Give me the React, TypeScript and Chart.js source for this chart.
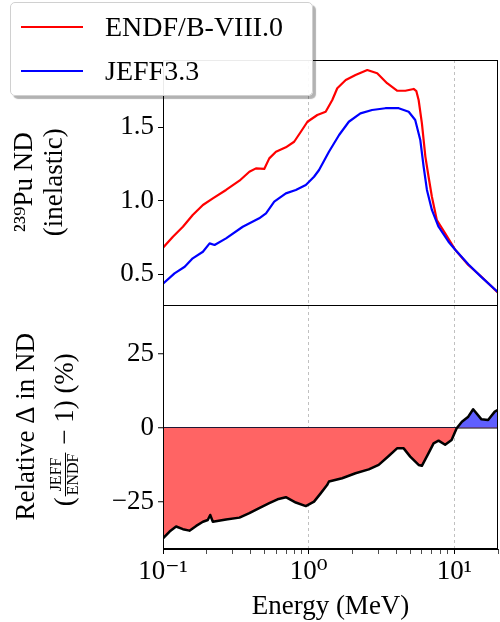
import React, { useEffect, useRef } from 'react';
import { Chart, registerables } from 'chart.js';

Chart.register(...registerables);

const FONT = "'Liberation Serif', 'DejaVu Serif', serif";

// ENDF/B-VIII.0 (red)
const energyEndf = [0.1, 0.117, 0.137, 0.16, 0.188, 0.22, 0.271, 0.335, 0.392, 0.435, 0.496, 0.537, 0.597, 0.698, 0.796, 0.885, 0.982, 1.148, 1.31, 1.455, 1.574, 1.8, 2.1, 2.53, 2.96, 3.46, 4.05, 4.62, 5.27, 5.5, 5.7, 6.0, 6.34, 6.67, 7.03, 7.6, 8.67, 10.2, 12.5, 15.4, 20];
const ndEndf = [0.68, 0.755, 0.823, 0.903, 0.971, 1.016, 1.073, 1.136, 1.197, 1.22, 1.216, 1.288, 1.333, 1.363, 1.401, 1.469, 1.537, 1.583, 1.605, 1.685, 1.765, 1.821, 1.855, 1.889, 1.867, 1.799, 1.748, 1.748, 1.76, 1.745, 1.685, 1.527, 1.3, 1.163, 1.027, 0.869, 0.778, 0.665, 0.563, 0.483, 0.374];

// JEFF3.3 (blue)
const energyJeff = [0.1, 0.12, 0.141, 0.16, 0.188, 0.209, 0.226, 0.271, 0.353, 0.458, 0.51, 0.581, 0.698, 0.817, 0.957, 1.09, 1.18, 1.38, 1.62, 1.89, 2.27, 2.73, 3.37, 4.16, 4.87, 5.4, 5.85, 6.17, 6.5, 7.03, 7.81, 9.14, 10.2, 12.5, 15.4, 20];
const ndJeff = [0.435, 0.506, 0.551, 0.608, 0.653, 0.71, 0.699, 0.744, 0.823, 0.88, 0.914, 0.993, 1.05, 1.073, 1.107, 1.163, 1.209, 1.333, 1.447, 1.537, 1.594, 1.617, 1.629, 1.629, 1.605, 1.549, 1.413, 1.231, 1.073, 0.937, 0.823, 0.721, 0.665, 0.568, 0.48, 0.378];

// Relative difference (%)
const energyRel = [0.1, 0.111, 0.123, 0.137, 0.152, 0.169, 0.188, 0.203, 0.211, 0.22, 0.271, 0.335, 0.392, 0.458, 0.537, 0.612, 0.698, 0.817, 0.957, 1.09, 1.21, 1.34, 1.38, 1.7, 2.1, 2.59, 3.03, 3.55, 4.05, 4.5, 4.99, 5.7, 6.0, 6.67, 7.22, 7.81, 8.67, 9.6, 10.4, 11.3, 12.5, 13.5, 15.4, 17.1, 19.0, 20];
const relDiff = [-37.4, -35.1, -33.4, -34.3, -34.8, -33.2, -31.8, -31.2, -29.5, -31.8, -31.0, -30.4, -28.9, -27.2, -25.5, -24.2, -23.5, -25.3, -26.5, -25.0, -22.2, -19.4, -18.2, -17.1, -15.4, -14.1, -12.6, -9.6, -7.0, -7.0, -9.8, -12.6, -12.9, -8.6, -5.3, -4.4, -5.8, -4.2, -0.2, 2.0, 3.7, 6.2, 2.8, 2.6, 5.4, 6.0];

const xMajorTicks = [0.1, 1, 10];
const xMajorLabels = ['10\u207B\u00B9', '10\u2070', '10\u00B9'];
const xMinorTicks = [0.2, 0.3, 0.4, 0.5, 0.6, 0.7, 0.8, 0.9, 2, 3, 4, 5, 6, 7, 8, 9, 20];
const xGridTicks = [1, 10];
const yTopTicks = [0.5, 1.0, 1.5];
const yBottomTicks = [-25, 0, 25];

const legendItems = [
  { label: 'ENDF/B-VIII.0', color: '#ff0000' },
  { label: 'JEFF3.3', color: '#0000ff' },
];

const pts = (xs: number[], ys: number[]) => xs.map((x, i) => ({ x, y: ys[i] }));

export default function App() {
  const ref = useRef<HTMLCanvasElement>(null);

  useEffect(() => {
    const canvas = ref.current!;

    const framePlugin = {
      id: 'frame',
      afterDatasetsDraw(chart: any) {
        const { ctx, chartArea } = chart;
        const yTop = chart.scales.yTop;
        ctx.save();
        ctx.strokeStyle = '#000';
        ctx.lineWidth = 1;
        ctx.strokeRect(chartArea.left + 0.5, chartArea.top + 0.5, chartArea.right - chartArea.left - 1, chartArea.bottom - chartArea.top - 1);
        ctx.beginPath();
        ctx.moveTo(chartArea.left, Math.round(yTop.bottom) + 0.5);
        ctx.lineTo(chartArea.right, Math.round(yTop.bottom) + 0.5);
        ctx.stroke();
        ctx.restore();
      },
    };

    const fracTitlePlugin = {
      id: 'fracTitle',
      afterDraw(chart: any) {
        const { ctx } = chart;
        const yBot = chart.scales.yBot;
        const cx = 65;
        const cy = (yBot.top + yBot.bottom) / 2 + 3;
        const big = `27px ${FONT}`;
        const small = `16px ${FONT}`;
        ctx.save();
        ctx.translate(cx, cy);
        ctx.rotate(-Math.PI / 2);
        ctx.fillStyle = '#000';
        ctx.strokeStyle = '#000';
        ctx.textBaseline = 'middle';
        ctx.textAlign = 'left';
        ctx.font = big;
        const open = '(';
        const rest = ' \u2212 1) (%)';
        const wOpen = ctx.measureText(open).width;
        const wRest = ctx.measureText(rest).width;
        ctx.font = small;
        const wNum = ctx.measureText('JEFF').width;
        const wDen = ctx.measureText('ENDF').width;
        const wFrac = Math.max(wNum, wDen) + 4;
        const total = wOpen + wFrac + wRest;
        let x = -total / 2;
        ctx.font = big;
        ctx.fillText(open, x, 1);
        x += wOpen;
        ctx.font = small;
        ctx.textAlign = 'center';
        ctx.fillText('JEFF', x + wFrac / 2, -8);
        ctx.fillText('ENDF', x + wFrac / 2, 9);
        ctx.lineWidth = 1;
        ctx.beginPath();
        ctx.moveTo(x + 1, 0.5);
        ctx.lineTo(x + wFrac - 1, 0.5);
        ctx.stroke();
        x += wFrac;
        ctx.font = big;
        ctx.textAlign = 'left';
        ctx.fillText(rest, x, 1);
        ctx.restore();
      },
    };

    const chart = new Chart(canvas, {
      type: 'line',
      data: {
        datasets: [
          {
            label: 'ENDF/B-VIII.0',
            data: pts(energyEndf, ndEndf),
            yAxisID: 'yTop',
            borderColor: '#ff0000',
            borderWidth: 2.2,
            pointRadius: 0,
            fill: false,
            order: 2,
          },
          {
            label: 'JEFF3.3',
            data: pts(energyJeff, ndJeff),
            yAxisID: 'yTop',
            borderColor: '#0000ff',
            borderWidth: 2.2,
            pointRadius: 0,
            fill: false,
            order: 1,
          },
          {
            label: 'rel',
            data: pts(energyRel, relDiff),
            yAxisID: 'yBot',
            borderColor: '#000000',
            borderWidth: 2.5,
            pointRadius: 0,
            fill: { target: { value: 0 }, above: 'rgba(95,95,255,1)', below: 'rgba(255,100,100,1)' },
            order: 3,
          },
        ],
      },
      plugins: [framePlugin, fracTitlePlugin],
      options: {
        responsive: false,
        animation: false,
        devicePixelRatio: 1,
        layout: { padding: { top: 60, right: 1, left: 0, bottom: 0 } },
        plugins: { legend: { display: false }, tooltip: { enabled: false } },
        elements: { line: { tension: 0, borderJoinStyle: 'round', borderCapStyle: 'round' } },
        scales: {
          x: {
            type: 'logarithmic',
            min: 0.1,
            max: 20,
            afterBuildTicks: (scale: any) => {
              scale.ticks = [...xMajorTicks, ...xMinorTicks]
                .sort((a, b) => a - b)
                .map((v) => ({ value: v, major: xMajorTicks.includes(v) }));
            },
            afterFit: (scale: any) => {
              scale.height = 73;
            },
            ticks: {
              autoSkip: false,
              maxRotation: 0,
              padding: 2,
              color: '#000',
              font: { family: FONT, size: 27 },
              callback: (value: any) => {
                const i = xMajorTicks.indexOf(Number(value));
                return i >= 0 ? xMajorLabels[i] : '';
              },
            },
            grid: {
              drawOnChartArea: true,
              color: (ctx: any) => (ctx.tick && xGridTicks.includes(ctx.tick.value) ? '#b0b0b0' : 'rgba(0,0,0,0)'),
              lineWidth: 0.8,
              tickLength: 5,
              tickColor: '#000',
              tickWidth: (ctx: any) => (ctx.tick && xMajorTicks.includes(ctx.tick.value) ? 1 : 0.7),
            },
            border: { display: true, color: '#000', width: 1, dash: [3, 3] },
            title: {
              display: true,
              text: 'Energy (MeV)',
              color: '#000',
              font: { family: FONT, size: 27, lineHeight: 1.1 },
              padding: { top: 0, bottom: 0 },
            },
          },
          yBot: {
            type: 'linear',
            position: 'left',
            stack: 'panels',
            stackWeight: 1,
            min: -41,
            max: 41.6,
            afterBuildTicks: (scale: any) => {
              scale.ticks = yBottomTicks.map((v) => ({ value: v }));
            },
            afterFit: (scale: any) => {
              scale.width = 163;
            },
            ticks: {
              padding: 4,
              color: '#000',
              font: { family: FONT, size: 27 },
              callback: (value: any) => {
                const v = Number(value);
                return v < 0 ? '\u2212' + Math.abs(v) : String(v);
              },
            },
            grid: {
              drawOnChartArea: true,
              color: (ctx: any) => (ctx.tick && ctx.tick.value === 0 ? '#000' : 'rgba(0,0,0,0)'),
              lineWidth: 1.5,
              tickLength: 5,
              tickColor: '#000',
              tickWidth: 1,
            },
            border: { display: true, color: '#000', width: 1 },
            title: {
              display: true,
              text: 'Relative \u0394 in ND',
              color: '#000',
              font: { family: FONT, size: 27, lineHeight: 1.12 },
              padding: { top: 12, bottom: 0 },
            },
          },
          yTop: {
            type: 'linear',
            position: 'left',
            stack: 'panels',
            stackWeight: 1,
            min: 0.294,
            max: 1.957,
            afterBuildTicks: (scale: any) => {
              scale.ticks = yTopTicks.map((v) => ({ value: v }));
            },
            afterFit: (scale: any) => {
              scale.width = 163;
            },
            ticks: {
              padding: 4,
              color: '#000',
              font: { family: FONT, size: 27 },
              callback: (value: any) => Number(value).toFixed(1),
            },
            grid: {
              drawOnChartArea: false,
              tickLength: 5,
              tickColor: '#000',
            },
            border: { display: true, color: '#000', width: 1 },
            title: {
              display: true,
              text: ['\u00B2\u00B3\u2079Pu ND', '(inelastic)'],
              color: '#000',
              font: { family: FONT, size: 27, lineHeight: 1.12 },
              padding: { top: 10, bottom: 0 },
            },
          },
        },
      },
    } as any);

    return () => chart.destroy();
  }, []);

  return (
    <div style={{ position: 'absolute', left: 0, top: 0, width: 500, height: 622, background: '#fff', overflow: 'hidden' }}>
      <canvas ref={ref} width={500} height={622} style={{ display: 'block', width: 500, height: 622 }} />
      <div
        style={{
          position: 'absolute',
          left: 10,
          top: 2,
          width: 303,
          height: 94,
          boxSizing: 'border-box',
          background: 'rgba(255,255,255,0.92)',
          border: '1px solid #d0d0d0',
          borderRadius: 5,
          boxShadow: '3px 3px 1px rgba(0,0,0,0.3)',
        }}
      >
        {legendItems.map((it, i) => (
          <div
            key={it.label}
            style={{
              position: 'absolute',
              left: 0,
              top: 6 + i * 44,
              height: 36,
              width: '100%',
              display: 'flex',
              alignItems: 'center',
            }}
          >
            <span style={{ display: 'inline-block', marginLeft: 10, width: 62, height: 2, background: it.color }} />
            <span style={{ marginLeft: 22, fontFamily: FONT, fontSize: 28, color: '#000', lineHeight: '36px', whiteSpace: 'nowrap' }}>
              {it.label}
            </span>
          </div>
        ))}
      </div>
    </div>
  );
}
